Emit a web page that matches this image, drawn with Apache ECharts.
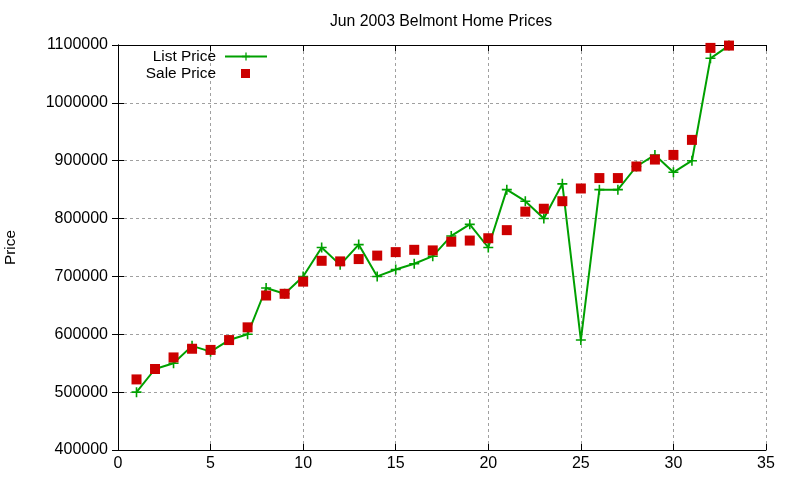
<!DOCTYPE html>
<html>
<head>
<meta charset="utf-8">
<script src="https://cdn.jsdelivr.net/npm/echarts@6/dist/echarts.min.js"></script>
<style>
    html, body { margin: 0; padding: 0; background: #fff; }
    #chart_prices { width: 800px; height: 480px; }
</style>
</head>
<body>
<div id="chart_prices"></div>
<script>
    // listing number, 1..33
    var homes = [1, 2, 3, 4, 5, 6, 7, 8, 9, 10, 11, 12, 13, 14, 15, 16, 17,
        18, 19, 20, 21, 22, 23, 24, 25, 26, 27, 28, 29, 30, 31, 32, 33];
    var listPrices = [500000, 540000, 550000, 580000, 570000, 590000, 600000, 680000,
        670000, 700000, 750000, 720000, 755000, 700000, 712000, 722000, 735000,
        770000, 790000, 750000, 850000, 830000, 800000, 860000, 590000, 850000,
        850000, 890000, 910000, 880000, 900000, 1077000, 1099000];
    var salePrices = [522000, 540000, 560000, 575000, 573000, 590000, 612000, 667000,
        670000, 691000, 727000, 726000, 730000, 736000, 742000, 746000, 745000,
        760000, 762000, 766000, 780000, 812000, 817000, 830000, 852000, 870000,
        870000, 890000, 902000, 910000, 936000, 1095000, 1099000];
    var xTicks = [0, 35, 5];
    var yTicks = [400000, 1100000, 100000];

    var font = 'Liberation Sans';
    var plus = 'path://M0.42,0H0.58V0.42H1V0.58H0.58V1H0.42V0.58H0V0.42H0.42Z';

    function pairs(ys) {
        return homes.map(function (x, i) { return [x, ys[i]]; });
    }

    var chart = echarts.init(document.getElementById('chart_prices'));

    var axisLine = {show: true, lineStyle: {color: '#000', width: 1}};
    var tick = {show: true, inside: true, length: 6, lineStyle: {color: '#000'}};
    var grid = {show: true, lineStyle: {color: '#a0a0a0', type: [3, 3], width: 1}};

    var option = {
        animation: false,
        backgroundColor: '#fff',
        textStyle: {fontFamily: font},
        title: {
            text: 'Jun 2003 Belmont Home Prices',
            left: 436,
            textAlign: 'center',
            top: 9,
            textStyle: {fontFamily: font, fontSize: 15.8, fontWeight: 'normal', color: '#000'}
        },
        grid: {left: 118, right: 34, top: 45, bottom: 30, containLabel: false, outerBoundsMode: 'none'},
        legend: [
            {
                data: ['List Price'], right: 527, top: 44, align: 'right',
                itemWidth: 42, itemHeight: 10, itemGap: 4,
                textStyle: {fontFamily: font, fontSize: 15.4, color: '#000', padding: [0, 4, 0, 0]}
            },
            {
                data: ['Sale Price'], right: 545, top: 61, align: 'right',
                icon: 'rect', itemWidth: 9, itemHeight: 9, itemGap: 4,
                textStyle: {fontFamily: font, fontSize: 15.4, color: '#000', padding: [0, 20, 0, 0]}
            }
        ],
        xAxis: [
            {
                type: 'value', min: xTicks[0], max: xTicks[1], interval: xTicks[2],
                axisLine: axisLine, axisTick: tick, splitLine: grid,
                axisLabel: {fontFamily: font, fontSize: 16, color: '#000', margin: 6}
            },
            {
                type: 'value', position: 'top', min: xTicks[0], max: xTicks[1], interval: xTicks[2],
                axisLine: axisLine, axisTick: tick, splitLine: {show: false}, axisLabel: {show: false}
            }
        ],
        yAxis: [
            {
                type: 'value', min: yTicks[0], max: yTicks[1], interval: yTicks[2],
                name: 'Price', nameLocation: 'middle', nameGap: 100,
                nameTextStyle: {fontFamily: font, fontSize: 15.4, color: '#000'},
                axisLine: axisLine, axisTick: tick, splitLine: grid,
                axisLabel: {
                    fontFamily: font, fontSize: 16, color: '#000', margin: 10,
                    formatter: function (v) { return String(v); }
                }
            },
            {
                type: 'value', position: 'right', min: yTicks[0], max: yTicks[1], interval: yTicks[2],
                axisLine: axisLine, axisTick: tick, splitLine: {show: false}, axisLabel: {show: false}
            }
        ],
        series: [
            {
                name: 'List Price',
                type: 'line',
                data: pairs(listPrices),
                symbol: plus,
                symbolSize: 10,
                showAllSymbol: true,
                itemStyle: {color: '#00a000'},
                lineStyle: {color: '#00a000', width: 2},
                z: 2
            },
            {
                name: 'Sale Price',
                type: 'scatter',
                data: pairs(salePrices),
                symbol: 'rect',
                symbolSize: 10,
                itemStyle: {color: '#cc0000', opacity: 1},
                z: 3
            }
        ]
    };
    chart.setOption(option);
</script>
</body>
</html>
